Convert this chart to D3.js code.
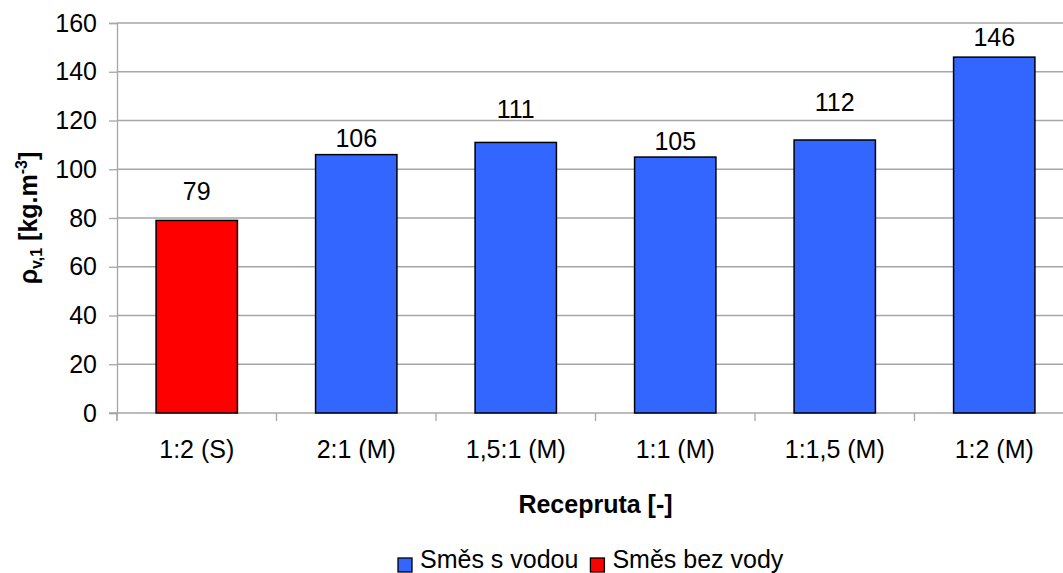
<!DOCTYPE html>
<html><head><meta charset="utf-8">
<script src="https://cdn.jsdelivr.net/npm/d3@7"></script>
<style>
html,body{margin:0;padding:0;background:#fff;overflow:hidden;}
text{font-family:"Liberation Sans",Arial,sans-serif;fill:#000;}
</style></head>
<body>
<svg id="c" width="1063" height="573"></svg>
<script>
const categories = ["1:2 (S)", "2:1 (M)", "1,5:1 (M)", "1:1 (M)", "1:1,5 (M)", "1:2 (M)"];
const values = [79, 106, 111, 105, 112, 146];
const seriesOf = ["Směs bez vody", "Směs s vodou", "Směs s vodou", "Směs s vodou", "Směs s vodou", "Směs s vodou"];
const seriesNames = ["Směs s vodou", "Směs bez vody"];
const yTicks = [0, 20, 40, 60, 80, 100, 120, 140, 160];
const labelGap = [20, 8, 24, 7, 29, 11];

const colors = {"Směs s vodou": "#3366FF", "Směs bez vody": "#FF0000"};
const FS = 25;
const svg = d3.select("#c");
const L = 117, R = 1074, T = 23, B = 413;
const x = d3.scaleBand().domain(categories).range([L, R]).paddingInner(0.49).paddingOuter(0.245);
const xb = d3.scaleBand().domain(categories).range([L, R]);
const y = d3.scaleLinear().domain([0, 160]).range([B, T]);
const grey = "#a6a6a6";

// gridlines
svg.append("g").selectAll("line").data(yTicks.filter(d => d > 0)).join("line")
  .attr("x1", L).attr("x2", R).attr("y1", d => y(d)).attr("y2", d => y(d))
  .attr("stroke", grey).attr("stroke-width", 1.3);

// y axis
const ya = svg.append("g").attr("transform", `translate(${L},0)`)
  .call(d3.axisLeft(y).tickValues(yTicks).tickSize(8).tickPadding(12));
ya.select(".domain").attr("stroke", grey).attr("stroke-width", 1.3);
ya.selectAll(".tick line").attr("stroke", grey).attr("stroke-width", 1.3);
ya.selectAll("text").style("font-size", FS + "px").style("font-family", "Liberation Sans, Arial, sans-serif").attr("fill", "#000");

// x axis
const xa = svg.append("g").attr("transform", `translate(0,${B})`);
xa.append("line").attr("x1", L - 8).attr("x2", R).attr("stroke", grey).attr("stroke-width", 1.3);
xa.selectAll("line.tk").data(categories).join("line").attr("class", "tk")
  .attr("x1", d => xb(d)).attr("x2", d => xb(d)).attr("y1", 0).attr("y2", 8)
  .attr("stroke", grey).attr("stroke-width", 1.3);
xa.append("line").attr("x1", L).attr("x2", L).attr("y1", 0).attr("y2", 8).attr("stroke", grey).attr("stroke-width", 1.3);
xa.selectAll("text.cl").data(categories).join("text").attr("class", "cl")
  .attr("x", d => xb(d) + xb.bandwidth() / 2).attr("y", 45)
  .attr("text-anchor", "middle").style("font-size", FS + "px").text(d => d);

// bars
svg.append("g").selectAll("rect").data(categories).join("rect")
  .attr("x", d => x(d)).attr("width", x.bandwidth())
  .attr("y", (d, i) => y(values[i])).attr("height", (d, i) => B - y(values[i]))
  .attr("fill", (d, i) => colors[seriesOf[i]]).attr("stroke", "#000").attr("stroke-width", 1.5);

// value labels
svg.append("g").selectAll("text").data(categories).join("text")
  .attr("x", d => x(d) + x.bandwidth() / 2)
  .attr("y", (d, i) => y(values[i]) - labelGap[i])
  .attr("text-anchor", "middle").style("font-size", FS + "px").text((d, i) => values[i]);

// axis titles
svg.append("text").attr("x", (L + R) / 2).attr("y", 513).attr("text-anchor", "middle")
  .style("font-size", FS + "px").style("font-weight", "bold").text("Recepruta [-]");

const yt = svg.append("text").attr("transform", `translate(37,${(T + B) / 2}) rotate(-90)`)
  .attr("text-anchor", "middle").style("font-size", FS + "px").style("font-weight", "bold");
yt.append("tspan").text("ρ");
yt.append("tspan").attr("dy", 5).style("font-size", "16px").text("v,1");
yt.append("tspan").attr("dy", -5).text(" [kg.m");
yt.append("tspan").attr("dy", -10).style("font-size", "16px").text("-3");
yt.append("tspan").attr("dy", 10).text("]");

// legend
const lg = svg.append("g");
let lx = 398;
seriesNames.forEach(n => {
  lg.append("rect").attr("x", lx).attr("y", 558).attr("width", 14).attr("height", 14)
    .attr("fill", colors[n]).attr("stroke", "#000").attr("stroke-width", 1.3);
  const t = lg.append("text").attr("x", lx + 22).attr("y", 568).style("font-size", FS + "px").text(n);
  lx += 22 + t.node().getComputedTextLength() + 12;
});
</script>
</body></html>
